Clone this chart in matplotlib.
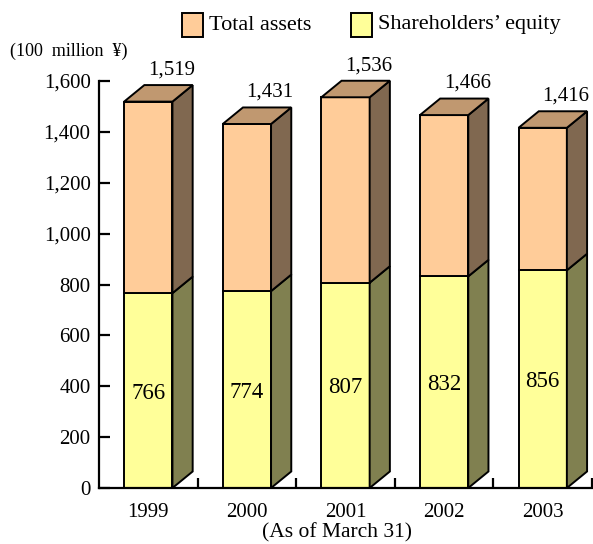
import matplotlib.pyplot as plt
from matplotlib.patches import Polygon, Rectangle
import numpy as np

plt.rcParams['font.family'] = ['Liberation Serif', 'DejaVu Serif']

# Data (100 million yen, as of March 31)
years = ['1999', '2000', '2001', '2002', '2003']
total_assets = [1519, 1431, 1536, 1466, 1416]
equity = [766, 774, 807, 832, 856]

# face colours: front, top, side
orange = ['#FFCC99', '#C09870', '#806850']
yellow = ['#FFFF99', '#C0C070', '#808050']

fig = plt.figure(figsize=(5.93, 5.44), dpi=100)
W, H = 593, 544
ax = fig.add_axes([99 / W, (H - 488) / H, (592 - 99) / W, (488 - 81) / H])
ax.set_xlim(-0.5, 4.5)
ax.set_ylim(0, 1600)

bw = 0.49   # front face width
dx = 0.205  # depth offset in x units
dy = 65     # depth offset in y units
lw = 1.4


def box(x0, y0, y1, cols, top=False):
    x1 = x0 + bw
    ax.add_patch(Polygon([(x0, y0), (x1, y0), (x1, y1), (x0, y1)], closed=True,
                         facecolor=cols[0], edgecolor='black', lw=lw, clip_on=False, zorder=3))
    ax.add_patch(Polygon([(x1, y0), (x1 + dx, y0 + dy), (x1 + dx, y1 + dy), (x1, y1)], closed=True,
                         facecolor=cols[2], edgecolor='black', lw=lw, clip_on=False, zorder=3))
    if top:
        ax.add_patch(Polygon([(x0, y1), (x1, y1), (x1 + dx, y1 + dy), (x0 + dx, y1 + dy)], closed=True,
                             facecolor=cols[1], edgecolor='black', lw=lw, clip_on=False, zorder=3))


x = np.arange(len(years))
for i in range(len(years)):
    x0 = x[i] - bw / 2
    box(x0, 0, equity[i], yellow)
    box(x0, equity[i], total_assets[i], orange, top=True)
    ax.text(x[i], equity[i] / 2 - 10, str(equity[i]), ha='center', va='center', fontsize=16.5, zorder=4)
    ax.text(x[i] + 0.235, total_assets[i] + dy + 22, f'{total_assets[i]:,}',
            ha='center', va='bottom', fontsize=15, zorder=4)

for s in ['top', 'right']:
    ax.spines[s].set_visible(False)
for s in ['left', 'bottom']:
    ax.spines[s].set_linewidth(1.6)
    ax.spines[s].set_zorder(5)

ax.set_yticks(range(0, 1601, 200))
ax.set_yticklabels([f'{v:,}' for v in range(0, 1601, 200)], fontsize=15)
ax.tick_params(axis='y', direction='in', length=8, width=1.6, pad=6)
ax.set_xticks(x)
ax.set_xticklabels(years, fontsize=15)
ax.tick_params(axis='x', length=0, pad=11)
ax.set_xticks(x + 0.5, minor=True)
ax.tick_params(axis='x', which='minor', direction='in', length=7, width=1.6)

fig.text(337 / W, 1 - 533 / H, '(As of March 31)', ha='center', va='center', fontsize=15.5)
fig.text(10 / W, 1 - 51 / H, '(100  million  ¥)', ha='left', va='center', fontsize=13)

# legend
legend = [('Total assets', orange[0], 182), ("Shareholders\u2019 equity", yellow[0], 351)]
for label, col, px in legend:
    fig.add_artist(Rectangle((px / W, 1 - 37 / H), 21 / W, 24 / H, transform=fig.transFigure,
                             facecolor=col, edgecolor='black', lw=1.4))
    fig.text((px + 27) / W, 1 - 25 / H, label, ha='left', va='center', fontsize=16)

fig.savefig('out.png', dpi=100)
